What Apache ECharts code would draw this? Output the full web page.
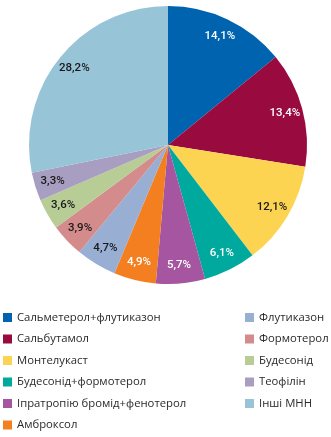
<!DOCTYPE html>
<html><head><meta charset="utf-8">
<script src="https://cdn.jsdelivr.net/npm/echarts@6/dist/echarts.min.js"></script>
<style>html,body{margin:0;padding:0;background:#fff}#c{width:331px;height:437px}</style>
</head><body><div id="c"></div>
<script>
const categories = ['Сальметерол+флутиказон','Сальбутамол','Монтелукаст','Будесонід+формотерол','Іпратропію бромід+фенотерол','Амброксол','Флутиказон','Формотерол','Будесонід','Теофілін','Інші МНН'];
const values = [14.1,13.4,12.1,6.1,5.7,4.9,4.7,3.9,3.6,3.3,28.2];
const colors = ['#0063AF','#990A3F','#FDD451','#00A99D','#A656A0','#F47F20','#98AED3','#D48B8B','#B8CC96','#A89EC2','#98C4D8'];
const labelColors = ['#fff','#fff','#1a1a1a','#fff','#fff','#fff','#1a1a1a','#1a1a1a','#1a1a1a','#1a1a1a','#1a1a1a'];
const leftLegend = categories.slice(0,6);
const rightLegend = categories.slice(6);

const data = categories.map((n,i)=>({name:n,value:values[i],itemStyle:{color:colors[i]}}));
const labelData = categories.map((n,i)=>({name:n,value:values[i],itemStyle:{color:'rgba(0,0,0,0)'},
  label:{color:labelColors[i]}}));

const chart = echarts.init(document.getElementById('c'));
const legendBase = {orient:'vertical',top:312,height:130,padding:0,itemWidth:9,itemHeight:9,itemGap:10.5,icon:'rect',
  textStyle:{fontFamily:'Open Sans',fontSize:11.3,color:'#2a2a2a'}};
chart.setOption({
  animation:false,
  legend:[
    Object.assign({},legendBase,{left:3,data:leftLegend}),
    Object.assign({},legendBase,{left:245,data:rightLegend})
  ],
  series:[
    {type:'pie',center:[168,145],radius:[0,139],startAngle:90,clockwise:true,data:data,
     label:{show:false},labelLine:{show:false},silent:true},
    {type:'pie',center:[168,145],radius:[97,139],startAngle:90,clockwise:true,data:labelData,
     label:{show:true,position:'inside',formatter:p=>String(p.value).replace('.',',')+'%',
       fontFamily:'Roboto',fontSize:11.5,fontWeight:500},
     labelLine:{show:false},silent:true,legendHoverLink:false}
  ]
});
</script></body></html>
